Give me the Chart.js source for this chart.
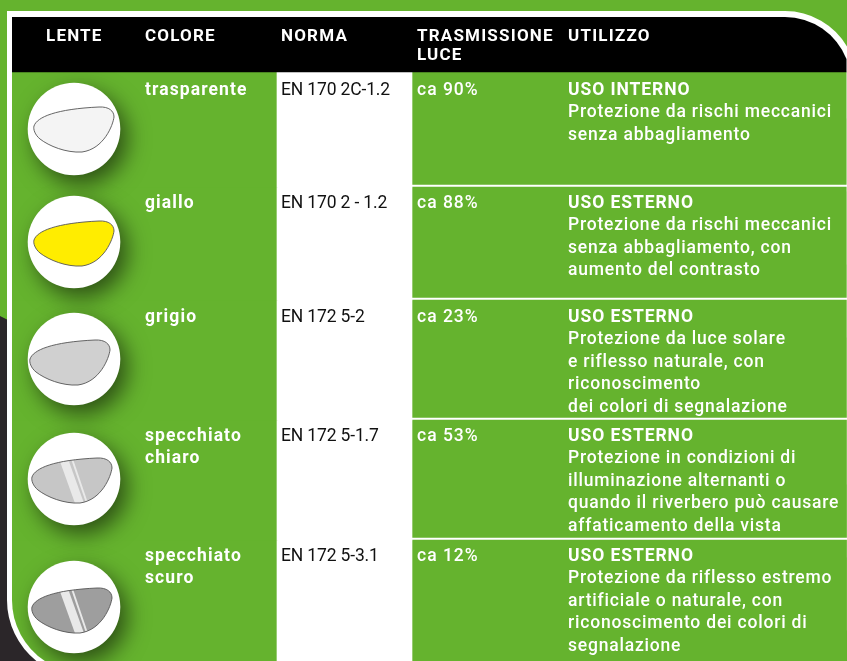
<!DOCTYPE html>
<html lang="it">
<head>
<meta charset="utf-8">
<title>Lenti</title>
<style>
  html, body { margin: 0; padding: 0; background: #65b32e; overflow: hidden; }
  canvas { display: block; }
</style>
</head>
<body>
<canvas id="myChart" width="847" height="661"></canvas>
<script src="https://cdn.jsdelivr.net/npm/chart.js"></script>
<script>
// table content
const headers = [['LENTE'], ['COLORE'], ['NORMA'], ['TRASMISSIONE', 'LUCE'], ['UTILIZZO']];
const colori = [['trasparente'], ['giallo'], ['grigio'], ['specchiato', 'chiaro'], ['specchiato', 'scuro']];
const norme = ['EN 170 2C-1.2', 'EN 170 2 - 1.2', 'EN 172 5-2', 'EN 172 5-1.7', 'EN 172 5-3.1'];
const trasmissione = [90, 88, 23, 53, 12];
const uso = ['USO INTERNO', 'USO ESTERNO', 'USO ESTERNO', 'USO ESTERNO', 'USO ESTERNO'];
const descrizioni = [
  ['Protezione da rischi meccanici', 'senza abbagliamento'],
  ['Protezione da rischi meccanici', 'senza abbagliamento, con', 'aumento del contrasto'],
  ['Protezione da luce solare', 'e riflesso naturale, con', 'riconoscimento', 'dei colori di segnalazione'],
  ['Protezione in condizioni di', 'illuminazione alternanti o', 'quando il riverbero può causare', 'affaticamento della vista'],
  ['Protezione da riflesso estremo', 'artificiale o naturale, con', 'riconoscimento dei colori di', 'segnalazione']
];

// layout, in axis units
const rowEdges = [72, 187, 300, 420, 540, 664];
const colEdges = [12, 277, 412, 847];
const headTop = 17;
const textX = [46, 145, 281, 417, 568];
const textY = [90.5, 203.5, 317.5, 436.5, 556.5];
const lensX = 74;
const lensY = [129, 242, 359, 479, 607];

const green = '#65b32e';
const F = 'Roboto, sans-serif';

// lens pictures, used as point styles
const lensStyles = [
  { fill: '#f4f4f4', dx: 0, dy: 0, stripes: null },
  { fill: '#ffed00', dx: 0, dy: 1, stripes: null },
  { fill: '#d0d0d0', dx: -4, dy: 3, stripes: null },
  { fill: '#c6c6c6', dx: -2, dy: 1, stripes: '#e9e9e9' },
  { fill: '#9e9e9e', dx: -2, dy: 3, stripes: '#e9e9e9' }
];

function lensCanvas(s) {
  const c = document.createElement('canvas');
  c.width = 160; c.height = 160;
  const g = c.getContext('2d');
  g.translate(80, 80);
  g.save();
  g.shadowColor = 'rgba(0,0,0,0.55)';
  g.shadowBlur = 22;
  g.shadowOffsetX = 7;
  g.shadowOffsetY = 9;
  g.fillStyle = '#fff';
  g.beginPath();
  g.arc(0, 0, 46.3, 0, Math.PI * 2);
  g.fill();
  g.restore();
  g.translate(s.dx, s.dy);
  const p = new Path2D('M-40,-3 C-37,-12 -18,-20 25,-22 C35,-22.5 40,-18 40,-12 C39,-4 30,20 8,23 C-8,24 -25,17 -34,10 C-39,6 -41,0 -40,-3 Z');
  g.fillStyle = s.fill;
  g.fill(p);
  if (s.stripes) {
    g.save();
    g.clip(p);
    g.fillStyle = s.stripes;
    g.beginPath();
    g.moveTo(-14, -24); g.lineTo(-5, -24); g.lineTo(13, 26); g.lineTo(4, 26); g.closePath();
    g.fill();
    g.beginPath();
    g.moveTo(-2, -24); g.lineTo(0, -24); g.lineTo(17, 26); g.lineTo(15, 26); g.closePath();
    g.fill();
    g.restore();
  }
  g.strokeStyle = '#555';
  g.lineWidth = 0.9;
  g.stroke(p);
  return c;
}

// table cells as floating bars
const datasets = [{
  type: 'bar',
  data: [{ x: [colEdges[0], colEdges[3]], y: (headTop + rowEdges[0]) / 2 }],
  backgroundColor: '#000',
  barThickness: rowEdges[0] - headTop,
  stack: 'table',
  order: 3
}];
const rowGap = 2.6;
trasmissione.forEach((v, i) => {
  const top = rowEdges[i], bottom = rowEdges[i + 1];
  datasets.push({
    type: 'bar',
    data: [
      { x: [colEdges[0], colEdges[1]], y: (top + bottom) / 2 },
      { x: [colEdges[1], colEdges[2]], y: (top + bottom) / 2 }
    ],
    backgroundColor: [green, '#fff'],
    barThickness: bottom - top,
    stack: 'table',
    order: 3
  });
  datasets.push({
    type: 'bar',
    data: [{ x: [colEdges[2], colEdges[3]], y: (top + bottom - rowGap) / 2 }],
    backgroundColor: green,
    barThickness: bottom - top - rowGap,
    stack: 'table',
    order: 3
  });
});
datasets.push({
  type: 'scatter',
  data: lensY.map(y => ({ x: lensX, y: y })),
  pointStyle: lensStyles.map(lensCanvas),
  pointRadius: 1,
  order: 1
});

function outerFrame(ctx) {
  ctx.beginPath();
  ctx.moveTo(7, 11);
  ctx.lineTo(785, 11);
  ctx.arc(785, 83, 72, -Math.PI / 2, -Math.asin(36 / 72));
  ctx.lineTo(847, 661);
  ctx.lineTo(36, 661);
  ctx.arc(85, 600, 78, Math.PI - Math.asin(61 / 78), Math.PI);
  ctx.closePath();
}
function innerFrame(ctx) {
  ctx.beginPath();
  ctx.moveTo(12, 17);
  ctx.lineTo(785, 17);
  ctx.arc(785, 83, 66, -Math.PI / 2, -Math.asin(24 / 66));
  ctx.lineTo(847, 661);
  ctx.lineTo(45, 661);
  ctx.arc(85, 600, 73, Math.PI - Math.asin(61 / 73), Math.PI);
  ctx.closePath();
}

function put(ctx, str, x, y, font, color, spacing) {
  ctx.font = font;
  ctx.fillStyle = color;
  ctx.letterSpacing = spacing + 'px';
  ctx.fillText(str, x, y);
}

const tablePlugin = {
  id: 'table',
  beforeDraw(chart) {
    const ctx = chart.ctx;
    ctx.save();
    ctx.fillStyle = green;
    ctx.fillRect(0, 0, 847, 661);
    ctx.fillStyle = '#2b2629';
    ctx.beginPath();
    ctx.moveTo(0, 316);
    ctx.lineTo(10, 321);
    ctx.lineTo(10, 597);
    ctx.lineTo(60, 661);
    ctx.lineTo(0, 661);
    ctx.closePath();
    ctx.fill();
    outerFrame(ctx);
    ctx.fillStyle = '#fff';
    ctx.fill();
    ctx.restore();
  },
  beforeDatasetsDraw(chart) {
    const ctx = chart.ctx;
    ctx.save();
    innerFrame(ctx);
    ctx.clip();
    ctx.fillStyle = '#fff';
    ctx.fillRect(0, 0, 847, 661);
  },
  afterDatasetsDraw(chart) {
    chart.ctx.restore();
  },
  afterDraw(chart) {
    const ctx = chart.ctx, xs = chart.scales.x, ys = chart.scales.y;
    ctx.save();
    ctx.textBaseline = 'middle';
    ctx.textAlign = 'left';
    const lh = 22.5;
    headers.forEach((lines, c) => {
      lines.forEach((t, l) => {
        put(ctx, t, xs.getPixelForValue(textX[c]), ys.getPixelForValue(36.5 + l * 19), '700 17px ' + F, '#fff', 1.2);
      });
    });
    trasmissione.forEach((v, i) => {
      const y = l => ys.getPixelForValue(textY[i] + l * lh);
      colori[i].forEach((t, l) => put(ctx, t, xs.getPixelForValue(textX[1]), y(l), '700 17.5px ' + F, '#fff', 1.1));
      put(ctx, norme[i], xs.getPixelForValue(textX[2]), y(0), '400 17.5px ' + F, '#111', -0.15);
      put(ctx, 'ca ' + v + '%', xs.getPixelForValue(textX[3]), y(0), '500 17.5px ' + F, '#fff', 1);
      put(ctx, uso[i], xs.getPixelForValue(textX[4]), y(0), '700 17.5px ' + F, '#fff', 0.93);
      descrizioni[i].forEach((t, l) => put(ctx, t, xs.getPixelForValue(textX[4]), y(l + 1), '500 17.5px ' + F, '#fff', 0.8));
    });
    ctx.restore();
  }
};

const myChart = new Chart(document.getElementById('myChart'), {
  data: { datasets: datasets },
  plugins: [tablePlugin],
  options: {
    responsive: false,
    animation: false,
    layout: { padding: 0, autoPadding: false },
    datasets: { bar: { indexAxis: 'y' } },
    plugins: { legend: { display: false }, tooltip: { enabled: false } },
    scales: {
      x: { type: 'linear', min: 0, max: 847, display: false, stacked: false, offset: false },
      y: { type: 'linear', min: 0, max: 661, reverse: true, display: false, offset: false }
    }
  }
});
</script>
</body>
</html>
